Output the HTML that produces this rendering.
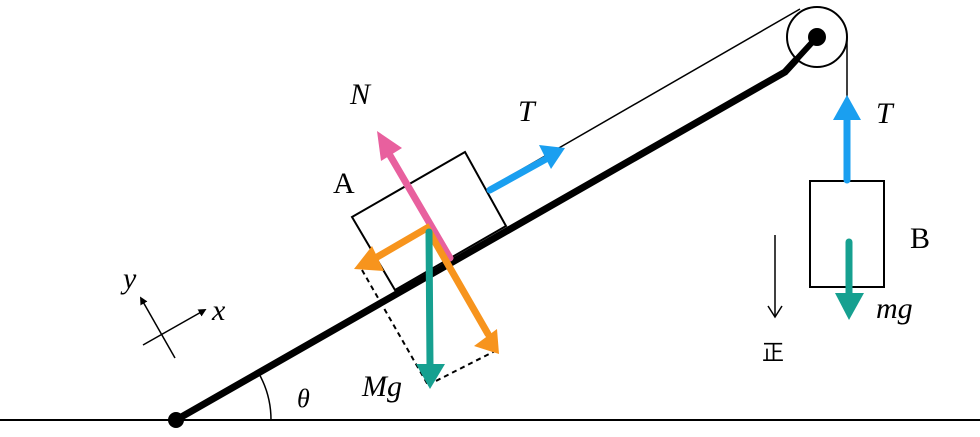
<!DOCTYPE html>
<html><head><meta charset="utf-8"><style>
html,body{margin:0;padding:0;background:#fff}
svg text{font-family:"Liberation Serif","DejaVu Serif",serif;font-size:30px}
.i{font-style:italic}
</style></head><body>
<svg width="980" height="432" viewBox="0 0 980 432" xmlns="http://www.w3.org/2000/svg">
<defs>
<marker id="ab" markerWidth="8" markerHeight="8" refX="4" refY="4" orient="auto" markerUnits="userSpaceOnUse" viewBox="0 0 8 8"><path d="M0,0 L8,4 L0,8 z" fill="#000"/></marker>
</defs>
<line x1="0" y1="420" x2="980" y2="420" stroke="#000" stroke-width="2"/>
<path d="M176,420 L785,72 L817,37" stroke="#000" stroke-width="7" fill="none"/>
<circle cx="176" cy="420" r="8" fill="#000"/>
<circle cx="817" cy="37" r="30" stroke="#000" stroke-width="2" fill="#fff"/>
<path d="M785,72 L817,37" stroke="#000" stroke-width="6"/>
<circle cx="817" cy="37" r="9" fill="#000"/>
<line x1="486" y1="190" x2="800" y2="9" stroke="#000" stroke-width="1.5"/>
<line x1="847" y1="37" x2="847" y2="181" stroke="#000" stroke-width="1.5"/>
<path d="M271,420 A95,95 0 0 0 258,372" stroke="#000" stroke-width="1.5" fill="none"/>
<polygon points="352,217 465,152 506,226 395,290" fill="#fff" stroke="#000" stroke-width="2"/>
<rect x="810" y="181" width="74" height="106" fill="#fff" stroke="#000" stroke-width="2"/>
<line x1="362" y1="270" x2="428" y2="385" stroke="#000" stroke-width="2" stroke-dasharray="5,4"/>
<line x1="428" y1="385" x2="497" y2="350" stroke="#000" stroke-width="2" stroke-dasharray="5,4"/>
<g stroke-width="7" fill="none" stroke-linecap="round">
<line x1="450" y1="258" x2="388" y2="152" stroke="#e8609e"/>
<polyline points="372,260 427,228 488,334" stroke="#f7941d"/>
<line x1="429" y1="232" x2="430" y2="366" stroke="#16a090"/>
<line x1="490" y1="190" x2="546" y2="159" stroke="#1a9ff0"/>
<line x1="847" y1="180" x2="847" y2="116" stroke="#1a9ff0"/>
<line x1="849" y1="242" x2="849" y2="296" stroke="#16a090"/>
</g>
<polygon points="377,131 402,148 381,161" fill="#e8609e"/>
<polygon points="354,269 372,246 384,271" fill="#f7941d"/>
<polygon points="499,354 474,346 497,329" fill="#f7941d"/>
<polygon points="430,389 416,364 445,364" fill="#16a090"/>
<polygon points="565,148 539,145 551,169" fill="#1a9ff0"/>
<polygon points="847,95 833,120 861,120" fill="#1a9ff0"/>
<polygon points="849,320 835,293 864,293" fill="#16a090"/>
<line x1="775" y1="235" x2="775" y2="316" stroke="#000" stroke-width="1.5"/>
<path d="M768,306 L775,317 L782,306" stroke="#000" stroke-width="1.5" fill="none"/>
<line x1="143" y1="345" x2="203" y2="311" stroke="#000" stroke-width="1.5" marker-end="url(#ab)"/>
<line x1="175" y1="358" x2="142" y2="300" stroke="#000" stroke-width="1.5" marker-end="url(#ab)"/>
<text x="350" y="104" class="i">N</text>
<text x="518" y="121" class="i">T</text>
<text x="333" y="193">A</text>
<text x="362" y="396" class="i">Mg</text>
<text x="876" y="123" class="i">T</text>
<text x="910" y="248">B</text>
<text x="876" y="318" class="i">mg</text>
<text x="123" y="288" class="i">y</text>
<text x="212" y="320" class="i">x</text>
<text x="297" y="407" class="i" style="font-size:26px">θ</text>
<text x="762" y="360" style="font-family:'Noto Sans CJK SC',sans-serif;font-size:22px">正</text>
</svg>
</body></html>
